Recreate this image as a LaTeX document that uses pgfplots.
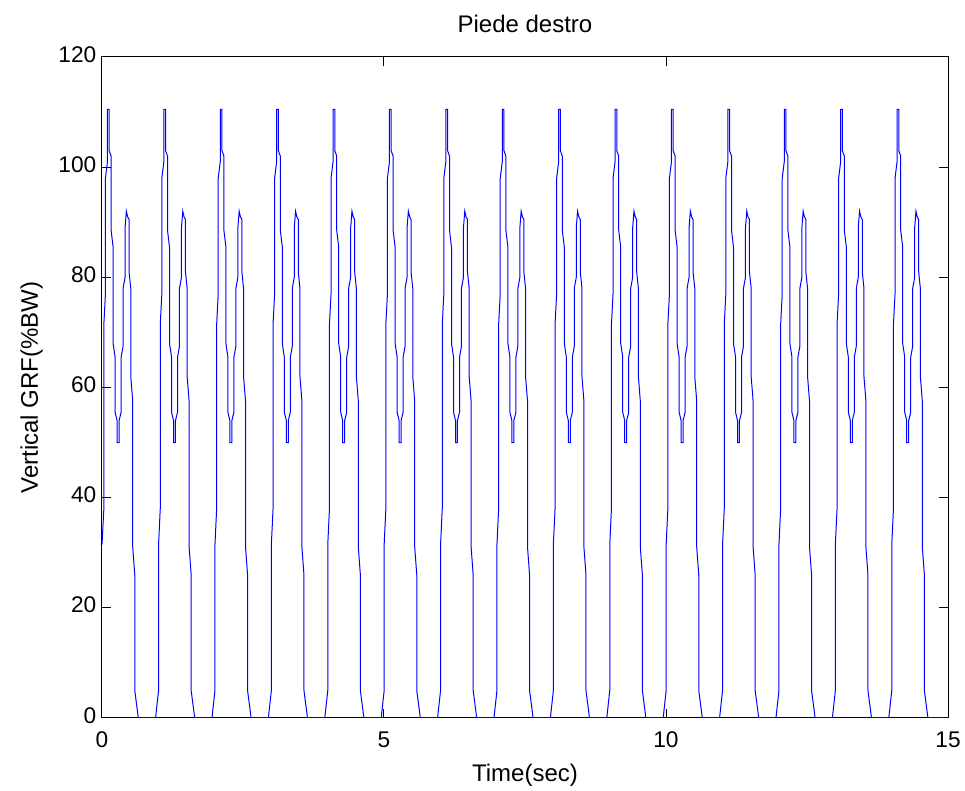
\documentclass[border=0pt]{standalone}
\usepackage{fontspec}
\setmainfont{Liberation Sans}
\usepackage{pgfplots}
\pgfplotsset{compat=1.18}
\begin{document}
\begin{tikzpicture}
\path[use as bounding box] (-76.5pt,-54.75pt) rectangle (647.25pt,538.5pt);
\begin{axis}[
  at={(0,0)}, anchor=south west,
  width=634.5pt, height=495.75pt, scale only axis,
  xmin=0, xmax=15, ymin=0, ymax=120,
  xtick={0,5,10,15}, ytick={0,20,...,120},
  tick align=inside, major tick length=6.5pt,
  axis line style={line width=0.75pt},
  every tick/.style={black, line width=0.75pt},
  /pgf/number format/assume math mode=true,
  tick label style={font=\fontsize{17}{20}\selectfont},
  xticklabel style={yshift=-7pt},
  yticklabel style={xshift=-0.8pt, yshift=2pt},
  every axis title shift=0pt,
  title={Piede destro},
  title style={at={(axis description cs:0.5,1.0378)}, anchor=base, font=\fontsize{18}{22}\selectfont},
  xlabel={Time(sec)},
  xlabel style={at={(axis description cs:0.5,-0.0968)}, anchor=base, font=\fontsize{18}{22}\selectfont},
  ylabel={Vertical GRF(\%BW)},
  ylabel style={at={(axis description cs:-0.0757,0.5)}, anchor=base, font=\fontsize{18}{22}\selectfont},
]
\addplot[color=blue, line width=0.75pt] coordinates {
(0,31.5) (0.033,38) (0.033,71.5) (0.061,77) (0.061,98) (0.097,101) (0.097,110.5) (0.127,110.5) (0.127,103) (0.162,102) (0.162,88.5) (0.197,85.5) (0.197,68) (0.233,65.5) (0.233,55.5) (0.268,54) (0.268,50) (0.303,50) (0.303,54) (0.339,55.5) (0.339,65.5) (0.374,67.5) (0.374,78) (0.409,80) (0.409,89) (0.432,92) (0.454,91) (0.480,90.5) (0.480,81) (0.510,78) (0.510,62) (0.545,57.5) (0.545,31) (0.581,26) (0.581,5) (0.644,0)
(0.950,0) (1.003,5) (1.003,31.5) (1.033,38) (1.033,71.5) (1.061,77) (1.061,98) (1.097,101) (1.097,110.5) (1.127,110.5) (1.127,103) (1.162,102) (1.162,88.5) (1.197,85.5) (1.197,68) (1.233,65.5) (1.233,55.5) (1.268,54) (1.268,50) (1.303,50) (1.303,54) (1.339,55.5) (1.339,65.5) (1.374,67.5) (1.374,78) (1.409,80) (1.409,89) (1.432,92) (1.454,91) (1.480,90.5) (1.480,81) (1.510,78) (1.510,62) (1.545,57.5) (1.545,31) (1.581,26) (1.581,5) (1.644,0)
(1.950,0) (2.003,5) (2.003,31.5) (2.033,38) (2.033,71.5) (2.061,77) (2.061,98) (2.097,101) (2.097,110.5) (2.127,110.5) (2.127,103) (2.162,102) (2.162,88.5) (2.197,85.5) (2.197,68) (2.233,65.5) (2.233,55.5) (2.268,54) (2.268,50) (2.303,50) (2.303,54) (2.339,55.5) (2.339,65.5) (2.374,67.5) (2.374,78) (2.409,80) (2.409,89) (2.432,92) (2.454,91) (2.480,90.5) (2.480,81) (2.510,78) (2.510,62) (2.545,57.5) (2.545,31) (2.581,26) (2.581,5) (2.644,0)
(2.950,0) (3.003,5) (3.003,31.5) (3.033,38) (3.033,71.5) (3.061,77) (3.061,98) (3.097,101) (3.097,110.5) (3.127,110.5) (3.127,103) (3.162,102) (3.162,88.5) (3.197,85.5) (3.197,68) (3.233,65.5) (3.233,55.5) (3.268,54) (3.268,50) (3.303,50) (3.303,54) (3.339,55.5) (3.339,65.5) (3.374,67.5) (3.374,78) (3.409,80) (3.409,89) (3.432,92) (3.454,91) (3.480,90.5) (3.480,81) (3.510,78) (3.510,62) (3.545,57.5) (3.545,31) (3.581,26) (3.581,5) (3.644,0)
(3.950,0) (4.003,5) (4.003,31.5) (4.033,38) (4.033,71.5) (4.061,77) (4.061,98) (4.097,101) (4.097,110.5) (4.127,110.5) (4.127,103) (4.162,102) (4.162,88.5) (4.197,85.5) (4.197,68) (4.233,65.5) (4.233,55.5) (4.268,54) (4.268,50) (4.303,50) (4.303,54) (4.339,55.5) (4.339,65.5) (4.374,67.5) (4.374,78) (4.409,80) (4.409,89) (4.432,92) (4.454,91) (4.480,90.5) (4.480,81) (4.510,78) (4.510,62) (4.545,57.5) (4.545,31) (4.581,26) (4.581,5) (4.644,0)
(4.950,0) (5.003,5) (5.003,31.5) (5.033,38) (5.033,71.5) (5.061,77) (5.061,98) (5.097,101) (5.097,110.5) (5.127,110.5) (5.127,103) (5.162,102) (5.162,88.5) (5.197,85.5) (5.197,68) (5.233,65.5) (5.233,55.5) (5.268,54) (5.268,50) (5.303,50) (5.303,54) (5.339,55.5) (5.339,65.5) (5.374,67.5) (5.374,78) (5.409,80) (5.409,89) (5.432,92) (5.454,91) (5.480,90.5) (5.480,81) (5.510,78) (5.510,62) (5.545,57.5) (5.545,31) (5.581,26) (5.581,5) (5.644,0)
(5.950,0) (6.003,5) (6.003,31.5) (6.033,38) (6.033,71.5) (6.061,77) (6.061,98) (6.097,101) (6.097,110.5) (6.127,110.5) (6.127,103) (6.162,102) (6.162,88.5) (6.197,85.5) (6.197,68) (6.233,65.5) (6.233,55.5) (6.268,54) (6.268,50) (6.303,50) (6.303,54) (6.339,55.5) (6.339,65.5) (6.374,67.5) (6.374,78) (6.409,80) (6.409,89) (6.432,92) (6.454,91) (6.480,90.5) (6.480,81) (6.510,78) (6.510,62) (6.545,57.5) (6.545,31) (6.581,26) (6.581,5) (6.644,0)
(6.950,0) (7.003,5) (7.003,31.5) (7.033,38) (7.033,71.5) (7.061,77) (7.061,98) (7.097,101) (7.097,110.5) (7.127,110.5) (7.127,103) (7.162,102) (7.162,88.5) (7.197,85.5) (7.197,68) (7.233,65.5) (7.233,55.5) (7.268,54) (7.268,50) (7.303,50) (7.303,54) (7.339,55.5) (7.339,65.5) (7.374,67.5) (7.374,78) (7.409,80) (7.409,89) (7.432,92) (7.454,91) (7.480,90.5) (7.480,81) (7.510,78) (7.510,62) (7.545,57.5) (7.545,31) (7.581,26) (7.581,5) (7.644,0)
(7.950,0) (8.003,5) (8.003,31.5) (8.033,38) (8.033,71.5) (8.061,77) (8.061,98) (8.097,101) (8.097,110.5) (8.127,110.5) (8.127,103) (8.162,102) (8.162,88.5) (8.197,85.5) (8.197,68) (8.233,65.5) (8.233,55.5) (8.268,54) (8.268,50) (8.303,50) (8.303,54) (8.339,55.5) (8.339,65.5) (8.374,67.5) (8.374,78) (8.409,80) (8.409,89) (8.432,92) (8.454,91) (8.480,90.5) (8.480,81) (8.510,78) (8.510,62) (8.545,57.5) (8.545,31) (8.581,26) (8.581,5) (8.644,0)
(8.950,0) (9.003,5) (9.003,31.5) (9.033,38) (9.033,71.5) (9.061,77) (9.061,98) (9.097,101) (9.097,110.5) (9.127,110.5) (9.127,103) (9.162,102) (9.162,88.5) (9.197,85.5) (9.197,68) (9.233,65.5) (9.233,55.5) (9.268,54) (9.268,50) (9.303,50) (9.303,54) (9.339,55.5) (9.339,65.5) (9.374,67.5) (9.374,78) (9.409,80) (9.409,89) (9.432,92) (9.454,91) (9.480,90.5) (9.480,81) (9.510,78) (9.510,62) (9.545,57.5) (9.545,31) (9.581,26) (9.581,5) (9.644,0)
(9.950,0) (10.003,5) (10.003,31.5) (10.033,38) (10.033,71.5) (10.061,77) (10.061,98) (10.097,101) (10.097,110.5) (10.127,110.5) (10.127,103) (10.162,102) (10.162,88.5) (10.197,85.5) (10.197,68) (10.233,65.5) (10.233,55.5) (10.268,54) (10.268,50) (10.303,50) (10.303,54) (10.339,55.5) (10.339,65.5) (10.374,67.5) (10.374,78) (10.409,80) (10.409,89) (10.432,92) (10.454,91) (10.480,90.5) (10.480,81) (10.510,78) (10.510,62) (10.545,57.5) (10.545,31) (10.581,26) (10.581,5) (10.644,0)
(10.950,0) (11.003,5) (11.003,31.5) (11.033,38) (11.033,71.5) (11.061,77) (11.061,98) (11.097,101) (11.097,110.5) (11.127,110.5) (11.127,103) (11.162,102) (11.162,88.5) (11.197,85.5) (11.197,68) (11.233,65.5) (11.233,55.5) (11.268,54) (11.268,50) (11.303,50) (11.303,54) (11.339,55.5) (11.339,65.5) (11.374,67.5) (11.374,78) (11.409,80) (11.409,89) (11.432,92) (11.454,91) (11.480,90.5) (11.480,81) (11.510,78) (11.510,62) (11.545,57.5) (11.545,31) (11.581,26) (11.581,5) (11.644,0)
(11.950,0) (12.003,5) (12.003,31.5) (12.033,38) (12.033,71.5) (12.061,77) (12.061,98) (12.097,101) (12.097,110.5) (12.127,110.5) (12.127,103) (12.162,102) (12.162,88.5) (12.197,85.5) (12.197,68) (12.233,65.5) (12.233,55.5) (12.268,54) (12.268,50) (12.303,50) (12.303,54) (12.339,55.5) (12.339,65.5) (12.374,67.5) (12.374,78) (12.409,80) (12.409,89) (12.432,92) (12.454,91) (12.480,90.5) (12.480,81) (12.510,78) (12.510,62) (12.545,57.5) (12.545,31) (12.581,26) (12.581,5) (12.644,0)
(12.950,0) (13.003,5) (13.003,31.5) (13.033,38) (13.033,71.5) (13.061,77) (13.061,98) (13.097,101) (13.097,110.5) (13.127,110.5) (13.127,103) (13.162,102) (13.162,88.5) (13.197,85.5) (13.197,68) (13.233,65.5) (13.233,55.5) (13.268,54) (13.268,50) (13.303,50) (13.303,54) (13.339,55.5) (13.339,65.5) (13.374,67.5) (13.374,78) (13.409,80) (13.409,89) (13.432,92) (13.454,91) (13.480,90.5) (13.480,81) (13.510,78) (13.510,62) (13.545,57.5) (13.545,31) (13.581,26) (13.581,5) (13.644,0)
(13.950,0) (14.003,5) (14.003,31.5) (14.033,38) (14.033,71.5) (14.061,77) (14.061,98) (14.097,101) (14.097,110.5) (14.127,110.5) (14.127,103) (14.162,102) (14.162,88.5) (14.197,85.5) (14.197,68) (14.233,65.5) (14.233,55.5) (14.268,54) (14.268,50) (14.303,50) (14.303,54) (14.339,55.5) (14.339,65.5) (14.374,67.5) (14.374,78) (14.409,80) (14.409,89) (14.432,92) (14.454,91) (14.480,90.5) (14.480,81) (14.510,78) (14.510,62) (14.545,57.5) (14.545,31) (14.581,26) (14.581,5) (14.644,0)
(15,0)
};
\end{axis}
\end{tikzpicture}
\end{document}
